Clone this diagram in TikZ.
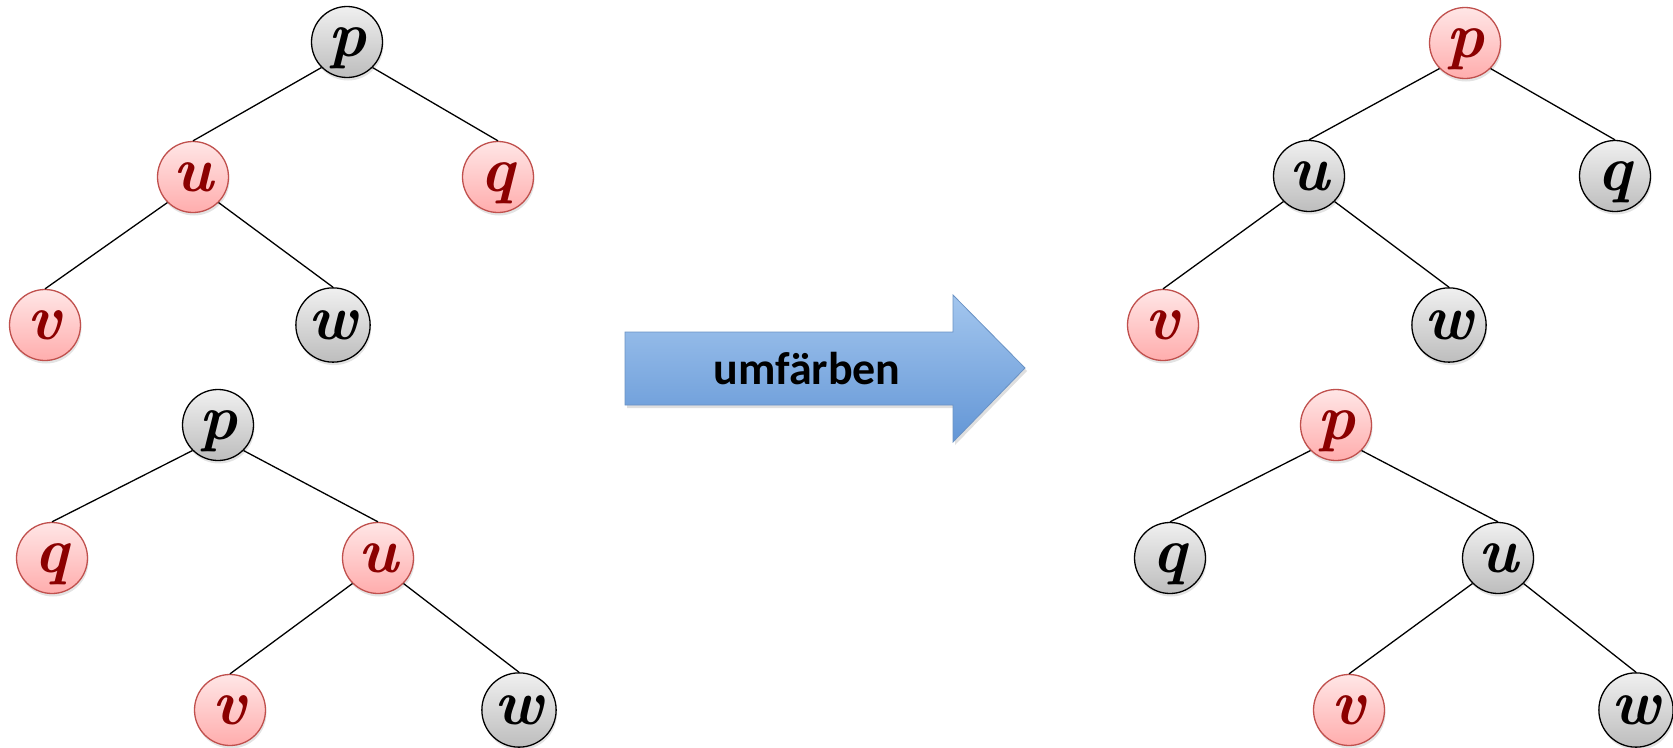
\documentclass[tikz,border=0pt]{standalone}
\usepackage{fontspec}
\newfontfamily\arrowfont{Carlito}
\usetikzlibrary{shadows}
\definecolor{redfillT}{HTML}{FFE6E6}
\definecolor{redfillB}{HTML}{FFADAD}
\definecolor{redline}{HTML}{C0504D}
\definecolor{redtext}{HTML}{8B0000}
\definecolor{grayT}{HTML}{F0F0F0}
\definecolor{grayB}{HTML}{BDBDBD}
\definecolor{arrowT}{HTML}{A3C6EE}
\definecolor{arrowB}{HTML}{6396D6}
\definecolor{arrowline}{HTML}{6A92C4}
\tikzset{
  tnode/.style={circle, minimum size=71pt, inner sep=0pt, line width=1.3pt,
    font=\fontsize{64}{64}\selectfont\bfseries\itshape,
    text height=42pt, text depth=14pt,
    drop shadow={opacity=0.22, shadow xshift=1pt, shadow yshift=-3pt}},
  rednode/.style={tnode, draw=redline, top color=redfillT, bottom color=redfillB, text=redtext},
  graynode/.style={tnode, draw=black, top color=grayT, bottom color=grayB, text=black},
  edge/.style={draw=black, line width=1.3pt},
  arrowshape/.style={draw=arrowline, line width=0.8pt, top color=arrowT, bottom color=arrowB,
    drop shadow={opacity=0.25, shadow xshift=2pt, shadow yshift=-3pt}},
  arrowtext/.style={font=\arrowfont\bfseries\fontsize{46}{46}\selectfont, text=black},
}
\begin{document}
\begin{tikzpicture}[x=1pt, y=-1pt]
\useasboundingbox (0,0) rectangle (1673,747);
% top-left tree
\node[graynode] (p1) at (347,42) {p};
\node[rednode] (u1) at (193,177) {u};
\node[rednode] (q1) at (498,177) {q};
\node[rednode] (v1) at (45,325) {v};
\node[graynode] (w1) at (333,325) {w};
\draw[edge] (p1.south west) -- (u1.north);
\draw[edge] (p1.south east) -- (q1.north);
\draw[edge] (u1.south west) -- (v1.north);
\draw[edge] (u1.south east) -- (w1.north);
% bottom-left tree
\node[graynode] (p2) at (218,425) {p};
\node[rednode] (q2) at (52,558) {q};
\node[rednode] (u2) at (378,558) {u};
\node[rednode] (v2) at (230,710) {v};
\node[graynode] (w2) at (519,710) {w};
\draw[edge] (p2.south west) -- (q2.north);
\draw[edge] (p2.south east) -- (u2.north);
\draw[edge] (u2.south west) -- (v2.north);
\draw[edge] (u2.south east) -- (w2.north);
% top-right tree
\node[rednode] (p3) at (1465,43) {p};
\node[graynode] (u3) at (1309,176) {u};
\node[graynode] (q3) at (1615,176) {q};
\node[rednode] (v3) at (1163,325) {v};
\node[graynode] (w3) at (1449,325) {w};
\draw[edge] (p3.south west) -- (u3.north);
\draw[edge] (p3.south east) -- (q3.north);
\draw[edge] (u3.south west) -- (v3.north);
\draw[edge] (u3.south east) -- (w3.north);
% bottom-right tree
\node[rednode] (p4) at (1336,425) {p};
\node[graynode] (q4) at (1170,558) {q};
\node[graynode] (u4) at (1498,558) {u};
\node[rednode] (v4) at (1349,710) {v};
\node[graynode] (w4) at (1636,710) {w};
\draw[edge] (p4.south west) -- (q4.north);
\draw[edge] (p4.south east) -- (u4.north);
\draw[edge] (u4.south west) -- (v4.north);
\draw[edge] (u4.south east) -- (w4.north);
% arrow
\path[arrowshape] (625,332) -- (953,332) -- (953,295) -- (1025,368) -- (953,442) -- (953,405) -- (625,405) -- cycle;
\node[arrowtext] (lbl) at (807,369) {umfärben};
\end{tikzpicture}
\end{document}
